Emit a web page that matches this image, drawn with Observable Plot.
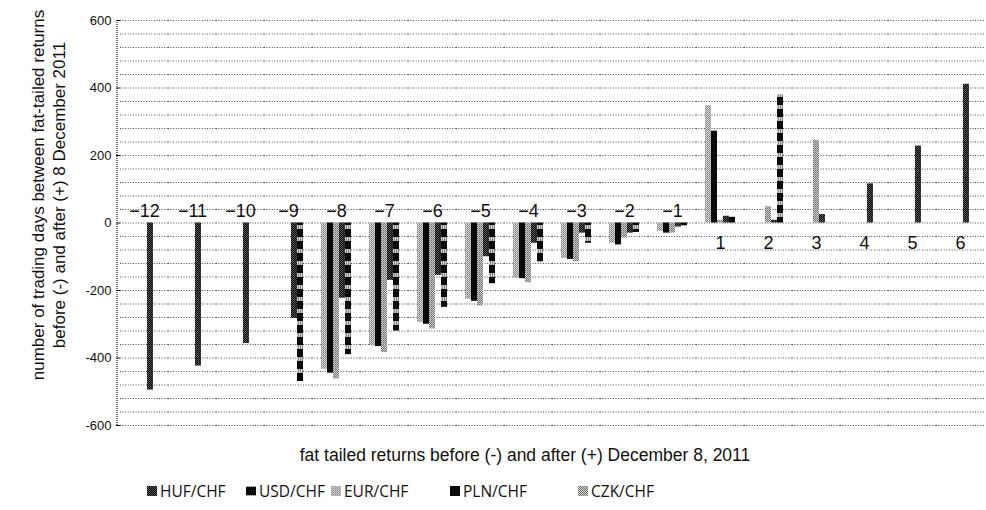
<!DOCTYPE html>
<html>
<head>
<meta charset="utf-8">
<script src="https://cdn.jsdelivr.net/npm/d3@7"></script>
<script src="https://cdn.jsdelivr.net/npm/@observablehq/plot@0.6"></script>
<style>
  html, body { margin: 0; padding: 0; background: #fff; }
  #wrap { position: relative; width: 986px; height: 510px; overflow: hidden; font-family: "Liberation Sans", Arial, sans-serif; color: #111; }
  #chart { position: absolute; left: 0; top: 0; }
  #ytitle { position: absolute; width: 460px; height: 44px; left: -180px; top: 173px; transform: rotate(-90deg); transform-origin: 50% 50%;
            text-align: center; font-size: 17px; line-height: 21px; white-space: nowrap; }
  #xtitle { position: absolute; left: 117px; width: 816px; top: 445px; text-align: center; font-size: 17.5px; }
  .leg { position: absolute; top: 480px; font-family: "Open Sans", "Noto Sans", sans-serif; font-size: 15.5px; display: flex; align-items: center; white-space: nowrap; }
  .leg svg { margin-right: 3px; }
</style>
</head>
<body>
<div id="wrap">
  <div id="chart"></div>
  <div id="ytitle">number of trading days between fat-tailed returns<br>before (-) and after (+) 8 December 2011</div>
  <div id="xtitle">fat tailed returns before (-) and after (+) December 8, 2011</div>
  <div id="legend"></div>
</div>
<script>
// Categories (fat-tailed return index relative to 8 Dec 2011)
const categories = ["-12","-11","-10","-9","-8","-7","-6","-5","-4","-3","-2","-1","1","2","3","4","5","6"];
const categoryLabels = ["\u221212","\u221211","\u221210","\u22129","\u22128","\u22127","\u22126","\u22125","\u22124","\u22123","\u22122","\u22121","1","2","3","4","5","6"];

// Series (bar order within each group as drawn)
const seriesOrder = ["EUR/CHF","PLN/CHF","CZK/CHF","HUF/CHF","USD/CHF"];
const legendOrder = ["HUF/CHF","USD/CHF","EUR/CHF","PLN/CHF","CZK/CHF"];

const eurValues = [null,null,null,null,-433,-364,-295,-226,-163,-105,-60,-25,348,null,null,null,null,null];
const plnValues = [null,null,null,null,-445,-366,-300,-232,-165,-108,-65,-30,272,null,null,null,null,null];
const czkValues = [null,null,null,null,-462,-384,-314,-246,-177,-115,-45,-30,8,48,245,null,null,null];
const hufValues = [-495,-424,-357,-283,-223,-170,-155,-100,-60,-30,-30,-12,20,8,25,116,228,411];
const usdValues = [null,null,null,-470,-390,-320,-250,-180,-118,-60,-28,-10,18,380,null,null,null,null];

const yTicks = [-600,-400,-200,0,200,400,600];
const gridValues = d3.range(-600, 601, 40);

const seriesValues = {"EUR/CHF": eurValues, "PLN/CHF": plnValues, "CZK/CHF": czkValues, "HUF/CHF": hufValues, "USD/CHF": usdValues};
const fills = {"EUR/CHF": "url(#pEUR)", "PLN/CHF": "#0a0a0a", "CZK/CHF": "url(#pCZK)", "HUF/CHF": "url(#pHUF)", "USD/CHF": "url(#pUSD)"};

const rows = [];
for (const s of seriesOrder) {
  seriesValues[s].forEach((v, i) => { if (v !== null) rows.push({cat: categories[i], series: s, value: v}); });
}
const labelRows = categories.map((c, i) => ({cat: c, label: categoryLabels[i], y: +c < 0 ? 35 : -59}));

const plot = Plot.plot({
  width: 986, height: 440,
  marginLeft: 117, marginRight: 0, marginTop: 20, marginBottom: 15,
  style: {fontFamily: "'Liberation Sans', Arial, sans-serif", fontSize: "13px", color: "#111", background: "transparent"},
  fx: {domain: categories, padding: 0, axis: null, label: null},
  x: {domain: seriesOrder, paddingInner: 0, paddingOuter: 1.0, axis: null, label: null},
  y: {domain: [-600, 600], ticks: yTicks, tickFormat: d => String(d), tickSize: 4, tickPadding: 5, label: null},
  color: {type: "identity"},
  marks: [
    Plot.ruleY(gridValues, {stroke: "#333", strokeDasharray: "1,1.6", strokeWidth: 0.9}),
    Plot.barY(rows, {fx: "cat", x: "series", y: "value", fill: d => fills[d.series]}),
    Plot.text(labelRows, {fx: "cat", y: "y", text: "label", fontSize: 18, fill: "#111", fontFamily: "'Liberation Sans', Arial, sans-serif"})
  ]
});

// patterns
const defs = d3.select(plot).insert("defs", ":first-child");
function checker(id, a, b, bg) {
  const p = defs.append("pattern").attr("id", id).attr("patternUnits", "userSpaceOnUse").attr("width", 2).attr("height", 2);
  p.append("rect").attr("width", 2).attr("height", 2).attr("fill", bg);
  p.append("rect").attr("width", 1).attr("height", 1).attr("fill", a);
  p.append("rect").attr("x", 1).attr("y", 1).attr("width", 1).attr("height", 1).attr("fill", b);
}
checker("pEUR", "#888", "#9c9c9c", "#cfcfcf");
checker("pCZK", "#666", "#7a7a7a", "#d4d4d4");
checker("pHUF", "#000", "#111", "#555");
{
  const p = defs.append("pattern").attr("id", "pUSD").attr("patternUnits", "userSpaceOnUse").attr("width", 2).attr("height", 12);
  p.append("rect").attr("width", 2).attr("height", 12).attr("fill", "#cfcfcf");
  p.append("rect").attr("x", 1).attr("width", 1).attr("height", 12).attr("fill", "#888");
  p.append("rect").attr("y", 1).attr("width", 2).attr("height", 8).attr("fill", "#0a0a0a");
}

// left border line using the plot's y scale
const ys = plot.scale("y");
d3.select(plot).append("line")
  .attr("x1", 117).attr("x2", 117)
  .attr("y1", ys.apply(600)).attr("y2", ys.apply(-600))
  .attr("stroke", "#222").attr("stroke-dasharray", "1,1").attr("stroke-width", 1.2);

document.getElementById("chart").appendChild(plot);

// legend
const legendX = {"HUF/CHF": 147, "USD/CHF": 246, "EUR/CHF": 331, "PLN/CHF": 450, "CZK/CHF": 578};
const legend = d3.select("#legend");
for (const s of legendOrder) {
  const item = legend.append("div").attr("class", "leg").style("left", legendX[s] + "px");
  const sw = item.append("svg").attr("width", 10).attr("height", 10);
  sw.append("rect").attr("width", 10).attr("height", 10).attr("fill", fills[s]);
  item.append("span").text(s);
}
</script>
</body>
</html>
